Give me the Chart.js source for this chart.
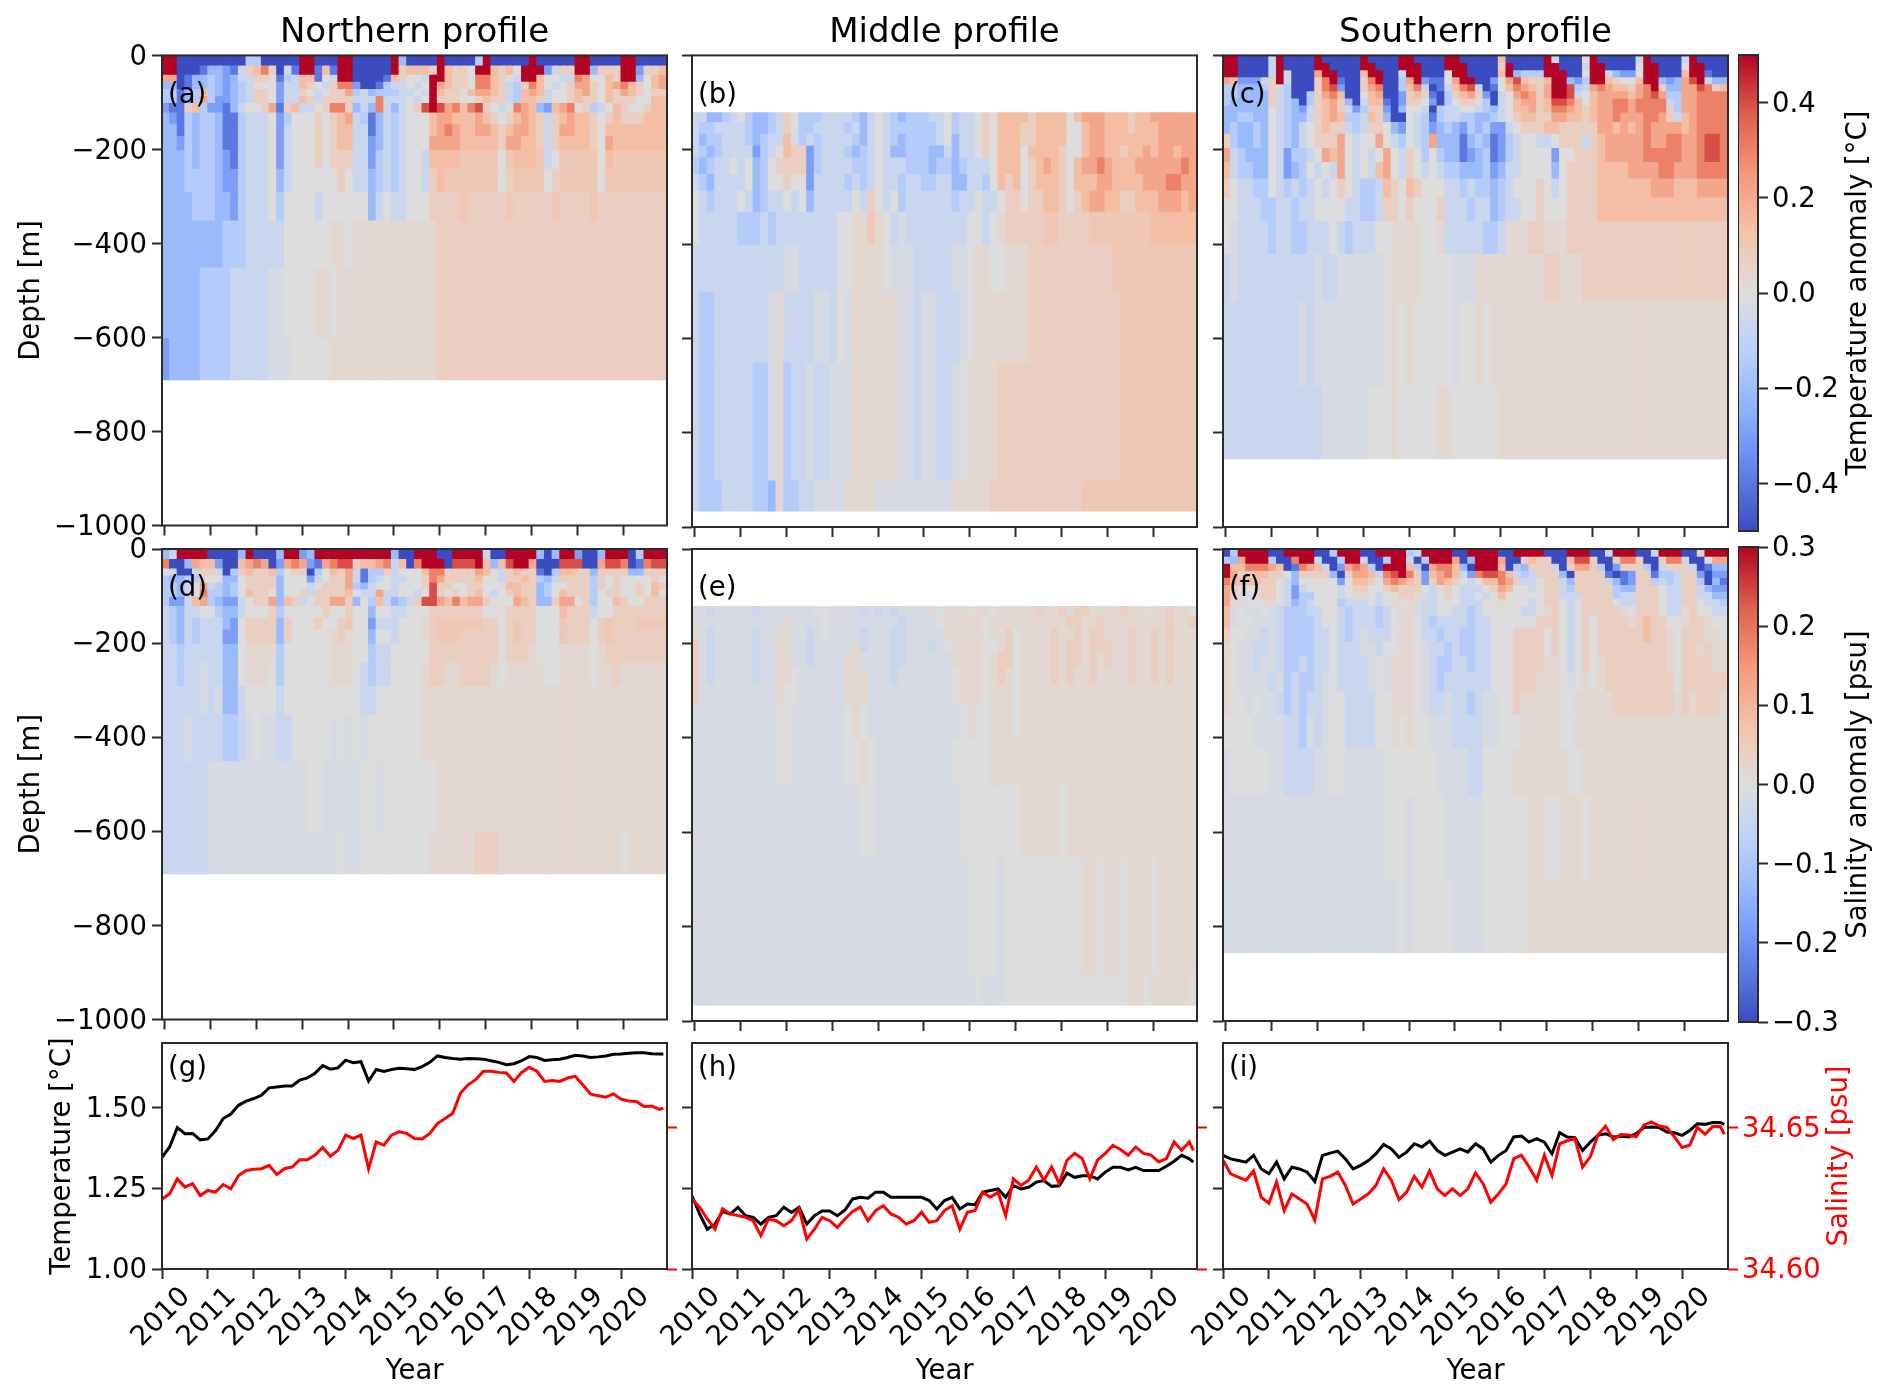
<!DOCTYPE html>
<html><head><meta charset="utf-8">
<script src="https://cdn.jsdelivr.net/npm/chart.js@4"></script>
<style>html,body{margin:0;padding:0;background:#fff}canvas{position:absolute;filter:blur(0.5px)}</style>
</head><body>
<script>
// ---------- tick labels and titles ----------
const yearTicks=[2010,2011,2012,2013,2014,2015,2016,2017,2018,2019,2020];
const depthTicks=[0,-200,-400,-600,-800,-1000];
const tempTicks=[1.00,1.25,1.50];
const salTicks=[34.60,34.65];
const tempBarTicks=[-0.4,-0.2,0,0.2,0.4];
const salBarTicks=[-0.3,-0.2,-0.1,0,0.1,0.2,0.3];
const columnTitles=['Northern profile','Middle profile','Southern profile'];
// ---------- colour classes: share of the colour bar's half range ----------
const levels={a:-1,b:-.8,c:-.6,d:-.42,e:-.28,f:-.14,u:-.05,g:0,v:.06,h:.14,w:.2,i:.28,j:.42,k:.6,l:.8,m:1};
// ---------- depth bands [top,bottom] in metres ----------
const bandsNorth=[[0,20],[20,40],[40,55],[55,70],[70,85],[85,100],[100,120],[120,145],[145,170],[170,200],[200,240],[240,290],[290,350],[350,450],[450,600],[600,690]];
const bandsMiddle=[[122,140],[140,165],[165,190],[190,215],[215,250],[250,285],[285,330],[330,400],[400,500],[500,650],[650,900],[900,966]];
const bandsSouth=[[0,15],[15,30],[30,45],[45,60],[60,75],[75,90],[90,105],[105,120],[120,140],[140,165],[165,195],[195,225],[225,260],[260,300],[300,350],[350,420],[420,520],[520,700],[700,855]];
// ---------- anomaly classes, one row per depth band, six cells per year ----------
const tempNorth=[
"mmaaaa aaaaae eaaaaa mmaaam maaaaa mdaaaa maaaae maaaaa maaaaa mmaaaa mmaaaa",
"mmaaab ddcbfh ikhafb mmbibm maaaaa mhiiih mihhgm mihigm mmcfhh mmdhhh mmchhi",
"jjabdd edcdff hhgbef iibgfm maaaab ihggfm mihhgk kihgfm miggff kjggih mmdgij",
"ddabdd edcdef gggcff ihgfhk kcaabe ffgfgm jihhgk kihfeh kigfgh jjhgij kihgij",
"eebdei edcdef hhgcff hgfghh jefdee effgfm ihhgij jihfei jifggh ijhgih jihghh",
"eebdej eccdef hhgcff ihfhhh hfffkf ffgfgm hhhggh ihhfei ihfggh ihhgih hhggii",
"cbbhie ccbdfg ghjbhi ffghkk hdfdkf dfghlm ljkikl hgfgkj idcijk ghefgi hgghii",
"dcbede edbbef ffgceg gghghi jfebdf efgggi jjiiij ihghij ihfhij iihghi hhhiii",
"ddbede edbbef ffgcfg gghghi iffbdf efgggi jkjiij jihijj ihfhjj iihgii iiiiii",
"ddcede edbbef ffgcfg gghghi iffcdf efgggj jjjiii iihjji ihfhii iihgji iiiiii",
"dddede edcbef ffgcfg gghghh hffcef efggfi iiiwww wwgwii iwfgww wwwgiw wwwwww",
"dddeee edccef ffgdfg gggggh gffdef efggfh iwwwww wwghww wwghww wwwgww wwwwww",
"ddddee eddcef ffgegg ggfggg gggdfg ffgggh hhhwhh hhhwhh hhhwhh hhwhhh hhhhhh",
"dddddd ddeeef ffffgg ggggvv gvvvvv vvvvvv hhhhhh hhhhhh hhhhhh hhhhhh hhhhhh",
"ddddde eeefff ffuugg ggvvgv vvvvvv vvvvvv hhhhhh hhhhhh hhhhhh hhhhhh hhhhhh",
"cdddde eeefff ffuuug ggggvv vvvvvv vvvvvv hhhhhh hhhhhh hhhhhh hhhhhh hhhhhh"];
const tempMiddle=[
"ffddef geddef hgeeef fffedf gfedee effgef fghgii iihiii igijjj iiihii jjjjjj",
"feefff feddef hgeeff ffefdf gfeeee eefgef fghgii ihhiii iggijj iiihii ijjjjj",
"fdeeff fedeff iuefef fffedf gfedee eefgdf fghgii ihhiii iggijj iiiiii ijjjjj",
"fedeff ffcefg ihhcef ffedef gfddee eddfdf fghgii igiiii hggijj iihiij ijjijj",
"edeffg fgdegh hhhcef fffeef gfffee edeede fffgii ighiji hgijjk jiiijj jjjjkj",
"fedfff fgdegg hggcff ffefef gffeff eeffdd ffegih ighiii hgiiij jiiiij jjkkjj",
"gfefff gfdeff gfgdff fffgfh gfgeff ffffef fgffgh hghhii hghijj iihhii ijjjij",
"gfffff eeefef ffffff fggvvw vgfuff ffffff ggfgvh hhhhww hhhhww wwwwww iiiiii",
"ffffff ffffff uuffff fggvvv vguuuf ffffuu gvvggv vvhhhh hhhhhh hwwwww wwwwww",
"feefff ffffuv ffffuu fguvvv vvvuuf uufffu gvvvvv vvhhhh hhhhhh hhwwww wwwwww",
"feefff ffeeuv effuff uuuvvv vvvuuf uuffug vvvvhh hhhhhh hhhhhh hhwwww wwwwww",
"feeeff ffeedv eeffuu uuvvvv uuuuuu uuuuvv vvvhhh hhhhhh hhhwww wwwwww wwwwww"];
const tempSouth=[
"mmaaaa fmaaaa maaaaa maaaam maaaam maaaaa iaaaaa mfaaag maaaaa fmaaaa fmaaaa",
"mmaaaa fmaaaa mmaaaa mmaaam mmaaam mmaaaa hmaaaa mmaaaf mmaaaa gmmaaa gmmaaa",
"mmaaaa fmfaaa jmmaaa immaaf mmaaag mmaaaa imdeee mmmaag mmfdcc gmmaaa immbaa",
"jicccf hmfaaa hkmbaa hkmaae jmcbbg jmmaac gjlihh immdce mmihgg immdcd jlmfdd",
"eeddde hfeaaa hklcaa hjkaae ikfabf iklfab gikjih jmmlef jkjiih jkmhdd jjlkhi",
"eedddd hfeaae hjkiaa gijaac hihbae hijhca fgjkjh jmmlfg ijjjji jkljee jjkkkk",
"eddddd hfedae hijhda fiibac hhgcae ghhgea fgijjh illkig ijjkkj kkkkfe jjkkkk",
"dddddd gfedcf hijhfc ehhcad ggfaef fggfed fgiijh ikkjih ijjkkj kkkkhe jjkkkk",
"ddeedd gfeddf hijiee fihdaa gfebef feedde fghiih hjjiih ijjkjj jkkjhf ijkkkk",
"dedded gfedfg hihhfe fhhgdc gfecde dcedec cfghhh iihhhh hjjiji jkjjjj ijkkkk",
"hedded gfedfg hhhjgf ggjgfe gfejdd dbdedb cefggf fghhhf hijjjj jkjjkk jjkllk",
"jfeddd gfceef gjijgf gfgjgf hgeged dbcdeb cefggg gcgghh hijjjj jkkkkk jjkllk",
"ifeedd gfcdeg fgfjgf gfijgf hgfgfe edddec dffggg gdghhh hiiiij jjjkkj jjkkkk",
"hgffee gfefef gfghgf eefihg ihgggf fefeed efgggh gfghhh hiiiii iijjji iijjjj",
"ggfffe effeff ggggff eefhhg hggghf ffeffd effggh ggghhh hiiiii iiiiii iiiiii",
"guffff effeef ffgfef ffggvv vvggvf ffffee fvvvhh vvvhhh hhhhhh hhhhhh hhhhhh",
"fuffff ffffff uffuuu uuugvv vvgggg uuuvvv vvvvvv hhvvvh hhhhhh hhhhhh hhhhhh",
"ffffff ffffuf uuuuuu uuugvg vggggg uggvgv vvvvvv vvvvvv vvvvvv vvvvvv vvvvvv",
"ffffff ffffff fuuuuu ugggvg ggggvv gggggg vvvvvv vvvvvv vvvvvv vvvvvv vvvvvv"];
const salNorth=[
"dfmmmm aaaadm aaadmm cdmmmm mmmmmm daammm aammmm faammm mdadmm caadmm maemmm",
"kaadji icaaij kjacjk jcbjkl lhiijk fiakmm malllm idilmm jaaall laajll kabkll",
"gfaafh hfaehi hhiegh haegih jfbeeh fgggik khhhhj igfhih hbaeii hhdhhh hddhhh",
"eddeeg ggddgh hhhdgg gcfghh jfbefg ffgghk jhhhhi ggfhhi hedfhh hhehgh gggghg",
"eedfgj fedegh hhhdgg gfghhh jedfgg fggghl hhgghh gggiih hdeggh hhehgh gghgih",
"eedfgk eedegi hhgdgg hfhhhh igffjf fggfgl hghghi gfghih hdegih hheghh gghgig",
"eccfij edccfg hhjdih fghhjj hdgeif defhll jikijj hgggji hddhjj gheggi hgghhh",
"fedffg geddfg gghegg ggghgg hggdgg ffgggh hhhhhh ggghhh hgggih hhfggh hhhhhh",
"fedfef ffdcgh hhhdhg gghggh wggcff fgggvh wwwwww hhghwh hgggwh hhghwh hhwwww",
"fedfef ffccgh hhhdhg ggggvh vggdgg fgggvh wwwhhh hhghwh hgggwh hhghwh hhhhhh",
"ffefff ffddgv vvvegg ggggvv vggeff gggggh hhhhhh hhghhh vgggvv vvgvhh hhhhhh",
"ffeffu ffddgv vvgegg ggggvv vgfeff ggggvh hvvhhh hvgvvv vvggvv vvgvvh vvvvvv",
"fffffu fuddfg gggfgg gggggg ggffgg ggggvv vvvvvv vvvvvv vvvvvv vvvvvv vvvvvv",
"fffuff ffeefu guuffg ggggug uguggg ggggvv vvvvvv vvvvvv vvvvvv vvvvvv vvvvvv",
"ffffff uuuuuu uuuuuu ugguuu uuggug gggggg vvvvvv vvvvvv vvvvvv vvvvvv vvvvvv",
"ffffff uuuuuu uuuuuu uuuuug uugggg gggggv vvvvvh hhvvvv vvvvvv vvvvvv gvvvvv"];
const salMiddle=[
"uufuuu uufuuu uuuugg uuuufu fufuuu uvgvvv gvvgvv vvvhvv hvhhvv vvhvvg vvhvvg",
"uuuuuu uuuuuu vuuuug uuuuuu uuufuu uugvvv vvgvvv vvvvvv vhhvvh vvvvvv vvhvvh",
"vufuuu uufuuv vuufug uuuufu uuffuu uuuvvv vvgvvh gvvvvh vvhvhh vvvhvv hvhvvv",
"hufuuu uufuuv vuufuu uuuvfu uuffuu ufugvv vvggvh gvvvvh vhhvhh hvvhvv hvhvvv",
"hufuuu uufuuv vuufuu uuvvuu uuffuu uuuuvv vvgvhh gvvvvh vhhvhv hvvhvv hvhvvv",
"hufuuu uufuuv vguuuu uuvvvu uufuuu uuuugv vvgvhv gvvvvh vhvvhv vvvhvv hvhvvv",
"huuuuu uuuuuv gguuuu uuvvvu uuuuuu uuuugv vvgvvv gvvvvv vvvvvv vvvvvv vvvvvv",
"uuuuuu uuuuug guuuuu uugvgu uuuuuu uuuuug vggvvv gvvvvv vvvvvv vvvvvv vvvvvv",
"uuuuuu uuuuug guuuuu uuggvg uuuuuu uuuugg gggvvv vvvvvv vvvvvv vvvvvv vvvvvv",
"uuuuuu uuuuuu uuuuuu uuuugg uuuuuu uuuuug gggggg gvvvvv gvvvvv vvvvvv vvvvvv",
"uuuuuu uuuuuu uuuuuu uuuuuu uuuuuu uuuuuu ggggug gggggg gggvvg vvgvvv gvvvvv",
"uuuuuu uuuuuu uuuuuu uuuuuu uuuuuu uuuuuu uguuug gggggg gggggg gggvvg vvvvvg"];
const salSouth=[
"aemmmm aammmm aaemmm aammmm efmmmm aammmm aammmm aaammm aafmmm aafmmm aahmmm",
"edjmmm eaakmm faaemm faaemm faemmm jadmmm jaahih haaill haahkk haahkk faagjj",
"miikkk jiabkj ifacjk jeammm ieajkk idammm iaedhh hfahjj heachh heafhh hfabdd",
"mjhhii hhgdhh hhdahj jifklm khcijk ifckll kifefh hhdahh hhbabc hhbeef hhcacc",
"kiiiih hgfdgg gggcgi ihgjkj ihchji hgfgii kjhffg hhfdhh hhfdbc hhefef hheadb",
"jhggvh hgfcfg gggfgh hgghih hhgfgh gfffgh jiggfg hhfehh hhhedd hhhgff hhfdcc",
"jhguvh hgfcee gggfgv vgfgvh hvufgh gffgfg iggggg hhfffh hhheff hhhgff hhffdd",
"jvuggv vgfdef gggeff fgfgvg vvffgg gfffgg vgggfg hhgfgh hhhgff hhhgff hhgffe",
"iuguug ufeeef fggfef ffefgv vuffgg ffefgg gggffg vhgfgh hhhhvg hhhgff vhggff",
"iugguu ufeeee fggfef ffefgv vgfeff ffeffg gggggh hhgfgh ghhhhv hihhgg vhhvgg",
"hgguuf ufeeee ffgfef ufffgv vgffef feeffg gghhhh ghgfgh ghhhhh hihhvg hhhvvg",
"vguuff ufeeee ffgfff uufggv vguffe feeffg gghhhh ghgfgh ghhhhh hhhhvg hhvhvv",
"vguufu ufeefe ffgfff fuguvv vgufee ffeffg gghhhh vvgfgh gvhhhh hhhhvg hhhhvv",
"vguuuu fuefee fugfff fuguvv vgufef fffffg gghhhv vvgugv gvhhhh hhhhhg hhhhhh",
"vggugu ufefef fuggff ffggvv vguffu ffefuu gghvvv vvggvv vvvhhh hhhhhv hvhhhv",
"gggguu uuffeu fuggff ffggvg vgguuu ffffuu gggvvv vvggvv vvvvvv vvvvvv vvvvvv",
"uggggg uuffff uugguu uuuggg gggguu uuffgg ggvvvv vvvggv vvvvvv vvvvvv vvvvvv",
"uuuuuu uuuuuu uuuuuu uuuggg uggggu uuuugg ggggvv ggvvvg vvvvvv vvvvvv vvvvvv",
"uuuuuu uuuuuu uuuuuu uuuuug uggggg uuuugg ggggvv vvvvvv vvvvvv vvvvvv vvvvvv"];
// ---------- bottom-row series, six readings per year plus the last month ----------
const northTemp=[1.346,1.378,1.438,1.419,1.420,1.400, 1.403,1.429,1.466,1.480,1.507,1.520, 1.528,1.538,1.561,1.564,1.567,1.567, 1.585,1.592,1.606,1.630,1.619,1.623, 1.647,1.639,1.642,1.582,1.618,1.612, 1.618,1.622,1.620,1.618,1.627,1.640, 1.660,1.655,1.652,1.650,1.652,1.651, 1.650,1.645,1.640,1.633,1.636,1.645, 1.658,1.655,1.646,1.648,1.650,1.655, 1.662,1.660,1.655,1.657,1.660,1.665, 1.666,1.668,1.670,1.670,1.667,1.666,1.666];
const northSal=[34.6248,34.6266,34.6319,34.6290,34.6302,34.6260, 34.6278,34.6272,34.6299,34.6284,34.6331,34.6349, 34.6353,34.6355,34.6367,34.6335,34.6355,34.6361, 34.6387,34.6387,34.6403,34.6430,34.6399,34.6420, 34.6474,34.6462,34.6474,34.6355,34.6450,34.6438, 34.6474,34.6486,34.6480,34.6462,34.6460,34.6480, 34.6515,34.6533,34.6551,34.6622,34.6652,34.6670, 34.6700,34.6700,34.6696,34.6694,34.6664,34.6696, 34.6714,34.6700,34.6664,34.6667,34.6664,34.6676, 34.6682,34.6652,34.6620,34.6613,34.6608,34.6620, 34.6601,34.6595,34.6593,34.6575,34.6577,34.6565,34.6569];
const middleTemp=[1.227,1.170,1.123,1.139,1.178,1.170, 1.191,1.165,1.160,1.139,1.160,1.165, 1.191,1.175,1.191,1.139,1.165,1.180, 1.180,1.165,1.183,1.217,1.222,1.219, 1.238,1.238,1.222,1.222,1.222,1.222, 1.222,1.212,1.186,1.212,1.222,1.186, 1.201,1.199,1.238,1.243,1.248,1.222, 1.258,1.248,1.253,1.269,1.274,1.256, 1.258,1.297,1.284,1.289,1.289,1.279, 1.300,1.315,1.315,1.307,1.315,1.305, 1.305,1.305,1.318,1.334,1.352,1.341,1.331];
const middleSal=[34.6248,34.6219,34.6177,34.6141,34.6213,34.6195, 34.6189,34.6183,34.6171,34.6118,34.6177,34.6171, 34.6153,34.6171,34.6213,34.6106,34.6141,34.6183, 34.6171,34.6147,34.6177,34.6204,34.6219,34.6171, 34.6207,34.6224,34.6195,34.6183,34.6159,34.6171, 34.6201,34.6165,34.6171,34.6207,34.6224,34.6141, 34.6201,34.6207,34.6272,34.6254,34.6272,34.6189, 34.6319,34.6296,34.6314,34.6361,34.6314,34.6361, 34.6302,34.6385,34.6409,34.6391,34.6319,34.6385, 34.6409,34.6438,34.6423,34.6403,34.6432,34.6409, 34.6403,34.6379,34.6391,34.6450,34.6420,34.6450,34.6420];
const southTemp=[1.352,1.341,1.336,1.331,1.352,1.310, 1.295,1.331,1.279,1.315,1.310,1.300, 1.271,1.352,1.359,1.365,1.341,1.310, 1.321,1.336,1.357,1.386,1.372,1.346, 1.362,1.388,1.378,1.396,1.367,1.352, 1.362,1.372,1.362,1.388,1.372,1.331, 1.352,1.367,1.409,1.412,1.393,1.404, 1.393,1.357,1.422,1.409,1.407,1.367, 1.393,1.414,1.419,1.409,1.411,1.409, 1.419,1.438,1.440,1.438,1.424,1.422, 1.414,1.429,1.450,1.448,1.454,1.454,1.448];
const southSal=[34.6385,34.6337,34.6325,34.6314,34.6347,34.6254, 34.6233,34.6308,34.6207,34.6266,34.6248,34.6230, 34.6173,34.6319,34.6328,34.6343,34.6296,34.6230, 34.6248,34.6266,34.6296,34.6355,34.6314,34.6246, 34.6272,34.6328,34.6290,34.6347,34.6284,34.6260, 34.6284,34.6260,34.6284,34.6340,34.6302,34.6236, 34.6266,34.6302,34.6391,34.6403,34.6361,34.6314, 34.6403,34.6331,34.6444,34.6454,34.6462,34.6361, 34.6397,34.6474,34.6506,34.6458,34.6476,34.6474, 34.6468,34.6509,34.6521,34.6506,34.6501,34.6468, 34.6430,34.6438,34.6501,34.6477,34.6504,34.6504,34.6477];

// ---------- drawing ----------
const FONT='"DejaVu Sans"', INK='#2b2b2b', TICK=27.5;
const coolwarm=[[58,76,192],[98,130,234],[141,176,254],[186,208,249],[221,221,221],[244,195,171],[244,152,122],[222,96,77],[180,4,38]];
function cw(f){const p=(f+1)/2*8,i=Math.min(7,Math.floor(p)),t=p-i,a=coolwarm[i],b=coolwarm[i+1];
  return 'rgb('+a.map((v,k)=>Math.round(v+(b[k]-v)*t)).join(',')+')';}
const minus=s=>String(s).replace('-','\u2212');
const frame={id:'frame',afterDatasetsDraw(c){const a=c.chartArea,x=c.ctx;x.save();x.strokeStyle=INK;x.lineWidth=2;
  x.strokeRect(a.left,a.top,a.right-a.left,a.bottom-a.top);x.restore();}};
const notes={id:'notes',afterDatasetsDraw(c,_,o){const x=c.ctx;(o.items||[]).forEach(n=>{x.save();
  x.translate(c.chartArea.left+n.dx,c.chartArea.top+n.dy);x.rotate(n.rot||0);x.font=(n.size||TICK)+'px '+FONT;x.fillStyle=n.color||'#000';
  x.textAlign=n.align||'left';x.textBaseline='middle';x.fillText(n.text,0,0);x.restore();});}};
function mk(left,top,w,h,config){const cv=document.createElement('canvas');cv.width=w;cv.height=h;
  cv.style.left=left+'px';cv.style.top=top+'px';cv.style.width=w+'px';cv.style.height=h+'px';document.body.appendChild(cv);
  config.options=Object.assign({responsive:false,animation:false,devicePixelRatio:1,events:[]},config.options);
  config.plugins=[frame,notes];return new Chart(cv,config);}
const tickGrid=(color)=>({display:true,drawOnChartArea:false,drawTicks:true,tickLength:10,tickWidth:2,tickColor:color||INK});
const setTicks=arr=>s=>{s.ticks=arr.map(v=>({value:v}));};
const setW=w=>s=>{s.width=w;};
const setH=h=>s=>{s.height=h;};
const colX=[162,692,1223],rowY=[55,549,1043],PW=505,HH=472,LH=226;
const XMIN=2009.94,XMAX=2020.96,CELLS=66;

function heat(col,row,tag,bands,rows){
  const showLabels=col===0,lm=showLabels?162:20;
  const top=row===0?0:rowY[row]-24,xh=20,W=lm+PW+15,H=(rowY[row]-top)+HH+xh;
  const cw1=(XMAX-XMIN)/CELLS;
  const datasets=bands.map((b,r)=>{const cells=rows[r].replace(/ /g,'');
    return {grouped:false,barPercentage:1,categoryPercentage:1,borderWidth:0,inflateAmount:0.6,
      data:[...cells].map((ch,i)=>({x:XMIN+(i+.5)*cw1,y:[-b[1],-b[0]]})),
      backgroundColor:[...cells].map(ch=>cw(levels[ch]))};});
  const titleOpts=row===0?{display:true,text:columnTitles[col],fullSize:false,color:'#000',font:{family:FONT,size:34,weight:'normal'},padding:{top:12.6,bottom:2}}:{display:false};
  mk(colX[col]-lm,top,W,H,{type:'bar',data:{datasets},options:{
    layout:{padding:{top:row===0?0:24,right:15,bottom:0,left:0}},
    plugins:{legend:{display:false},tooltip:{enabled:false},title:titleOpts,
      notes:{items:[{text:tag,dx:6,dy:40}]}},
    scales:{
      x:{type:'linear',offset:false,min:XMIN,max:XMAX,afterBuildTicks:setTicks(yearTicks),afterFit:setH(xh),
         grid:Object.assign(tickGrid(),{offset:false}),border:{display:false},ticks:{display:false}},
      y:{type:'linear',min:-1000,max:0,afterBuildTicks:setTicks(depthTicks),afterFit:setW(lm),
         grid:tickGrid(),border:{display:false},
         ticks:{display:showLabels,autoSkip:false,padding:5,labelOffset:2,color:'#000',font:{family:FONT,size:TICK},callback:v=>minus(v)},
         title:{display:showLabels,text:'Depth [m]',color:'#000',font:{family:FONT,size:TICK},padding:{top:15,bottom:0}}}
    }}});
}
function lines(col,tag,temp,sal){
  const lm=col===0?162:80,rm=col===2?1892-1728:15,top=rowY[2]-24,H=1399-top;
  const xs=temp.map((_,i)=>i<66?2010+i/6:2020.92);
  const items=[{text:tag,dx:6,dy:26}];
  if(col===2)items.push({text:'Salinity [psu]',dx:PW+112,dy:113,rot:-Math.PI/2,align:'center',color:'#ff0000'});
  mk(colX[col]-lm,top,lm+PW+rm,H,{type:'line',data:{datasets:[
     {yAxisID:'y2',order:0,data:sal.map((v,i)=>({x:xs[i],y:v})),borderColor:'#ff0000',borderWidth:3,pointRadius:0,tension:0},
     {yAxisID:'y',order:1,data:temp.map((v,i)=>({x:xs[i],y:v})),borderColor:'#000',borderWidth:3,pointRadius:0,tension:0}]},
   options:{layout:{padding:{top:24,right:0,bottom:0,left:0}},
    plugins:{legend:{display:false},tooltip:{enabled:false},notes:{items}},
    scales:{
     x:{type:'linear',min:2010,max:2021,afterBuildTicks:setTicks(yearTicks),afterFit:setH(H-24-LH),
        grid:tickGrid(),border:{display:false},
        ticks:{autoSkip:false,minRotation:45,maxRotation:45,padding:2,labelOffset:24,color:'#000',font:{family:FONT,size:TICK},callback:v=>String(v)},
        title:{display:true,text:'Year',color:'#000',font:{family:FONT,size:TICK},padding:{top:0,bottom:11}}},
     y:{type:'linear',position:'left',min:1,max:1.7,afterBuildTicks:setTicks(tempTicks),afterFit:setW(lm),
        grid:tickGrid(),border:{display:false},
        ticks:{display:col===0,autoSkip:false,padding:5,labelOffset:2,color:'#000',font:{family:FONT,size:TICK},callback:v=>v.toFixed(2)},
        title:{display:col===0,text:'Temperature [\u00b0C]',color:'#000',font:{family:FONT,size:TICK},padding:{top:46,bottom:0}}},
     y2:{type:'linear',position:'right',min:34.6,max:34.68,afterBuildTicks:setTicks(salTicks),afterFit:setW(rm),
        grid:tickGrid('#ff0000'),border:{display:false},
        ticks:{display:col===2,autoSkip:false,padding:4,labelOffset:2,color:'#ff0000',font:{family:FONT,size:TICK},callback:v=>v.toFixed(2)}}
    }}});
}
function bar(top,h,vmax,ticks,label,fmt,dx){
  const W=1892-1738;
  mk(1738,top-24,W,h+48,{type:'bar',data:{labels:[''],datasets:[{data:[[-vmax,vmax]],barPercentage:1,categoryPercentage:1,borderWidth:0,inflateAmount:0,
     backgroundColor:c=>{const a=c.chart.chartArea;if(!a)return '#ddd';const g=c.chart.ctx.createLinearGradient(0,a.bottom,0,a.top);
        coolwarm.forEach((s,i)=>g.addColorStop(i/8,'rgb('+s.join(',')+')'));return g;}}]},
   options:{layout:{padding:{top:24,bottom:24}},
    plugins:{legend:{display:false},tooltip:{enabled:false},notes:{items:[{text:label,dx,dy:h/2,rot:-Math.PI/2,align:'center'}]}},
    scales:{x:{display:false},
     y:{position:'right',min:-vmax,max:vmax,afterBuildTicks:setTicks(ticks),afterFit:setW(W-20),
        grid:tickGrid(),border:{display:false},
        ticks:{autoSkip:false,padding:4,labelOffset:2,color:'#000',font:{family:FONT,size:TICK},callback:fmt}}}}});
}
heat(0,0,'(a)',bandsNorth,tempNorth);
heat(1,0,'(b)',bandsMiddle,tempMiddle);
heat(2,0,'(c)',bandsSouth,tempSouth);
heat(0,1,'(d)',bandsNorth,salNorth);
heat(1,1,'(e)',bandsMiddle,salMiddle);
heat(2,1,'(f)',bandsSouth,salSouth);
lines(0,'(g)',northTemp,northSal);
lines(1,'(h)',middleTemp,middleSal);
lines(2,'(i)',southTemp,southSal);
bar(55,476,0.5,tempBarTicks,'Temperature anomaly [\u00b0C]',v=>minus(v.toFixed(1)),121);
bar(547,475,0.3,salBarTicks,'Salinity anomaly [psu]',v=>minus(v.toFixed(1)),121);
</script>
</body></html>
